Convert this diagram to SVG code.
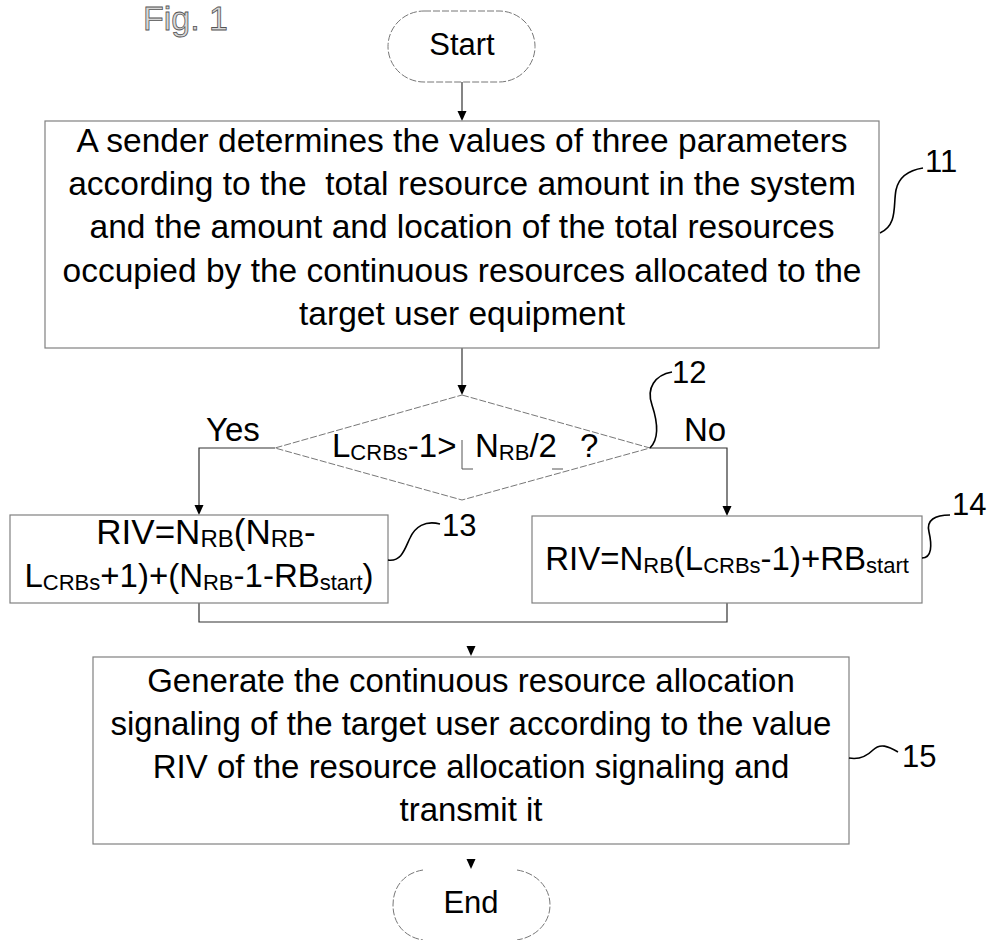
<svg xmlns="http://www.w3.org/2000/svg" width="991" height="940" viewBox="0 0 991 940">
<style>
text{font-family:"Liberation Sans",Arial,sans-serif;fill:#000}
.t{font-size:33px;text-anchor:middle}
.lbl{font-size:31px}
.sub{font-size:22px}
.box{fill:#fff;stroke:#808080;stroke-width:1.2}
.term{fill:none;stroke:#777;stroke-width:1;stroke-dasharray:7 2}
.ln{fill:none;stroke:#333;stroke-width:1.2}
.sq{fill:none;stroke:#000;stroke-width:1.6}
.ah{fill:#000}
</style>
<rect width="991" height="940" fill="#fff"/>
<text x="143" y="30" style="font-size:34px;fill:#d8d8d8;stroke:#555;stroke-width:0.8">Fig. 1</text>

<g id="connectors">
<line class="ln" x1="462" y1="82" x2="462" y2="112"/>
<path class="ah" d="M457.5,111 L466.5,111 L462,121 Z"/>
<line class="ln" x1="462" y1="348" x2="462" y2="386"/>
<path class="ah" d="M457.5,385 L466.5,385 L462,395 Z"/>
<path class="ln" d="M275,448 H199 V506"/>
<path class="ah" d="M194.5,505 L203.5,505 L199,515 Z"/>
<path class="ln" d="M650,448 H727 V507"/>
<path class="ah" d="M722.5,506 L731.5,506 L727,516 Z"/>
<path class="ln" d="M199,603 V622 H727 V603"/>
<path class="ah" d="M466.5,646 L475.5,646 L471,656 Z"/>
<path class="ah" d="M466.5,859 L475.5,859 L471,869 Z"/>
</g>

<g id="start">
<rect class="term" x="388" y="11" width="147" height="71" rx="36" ry="35.5"/>
<text class="t" x="462" y="55" style="font-size:31px">Start</text>
</g>

<g id="n11">
<rect class="box" x="45" y="121" width="834" height="227"/>
<text class="t" x="462" y="152" style="font-size:33.5px">A sender determines the values of three parameters</text>
<text class="t" x="462" y="195" style="font-size:33.5px" xml:space="preserve">according to the  total resource amount in the system</text>
<text class="t" x="462" y="238" style="font-size:33.5px">and the amount and location of the total resources</text>
<text class="t" x="462" y="282" style="font-size:33.5px">occupied by the continuous resources allocated to the</text>
<text class="t" x="462" y="325" style="font-size:33.5px">target user equipment</text>
<path class="sq" d="M880,233 C898,225 893,205 896,190 C899,176 910,170 923,168"/>
<text class="lbl" x="925" y="172">11</text>
</g>

<g id="n12">
<path class="term" d="M462,395 L650,448 L462,500 L275,448 Z"/>
<text x="332" y="457" style="font-size:33px">L<tspan class="sub" dy="3">CRBs</tspan><tspan dy="-3">-1&gt;</tspan><tspan x="475">N</tspan><tspan class="sub" dy="3">RB</tspan><tspan dy="-3">/2</tspan><tspan x="580">?</tspan></text>
<path fill="none" stroke="#555" stroke-width="1" d="M462,440 V469 H473 M552,469 H563"/>
<text x="206" y="441" style="font-size:33px">Yes</text>
<text x="684" y="441" style="font-size:33px">No</text>
<path class="sq" d="M650,448 C660,438 657,420 652,405 C646,388 655,375 672,372"/>
<text class="lbl" x="672" y="383">12</text>
</g>

<g id="n13">
<rect class="box" x="10" y="515" width="378" height="88"/>
<text class="t" x="206" y="544" style="font-size:35px">RIV=N<tspan dy="3" style="font-size:24px">RB</tspan><tspan dy="-3">(N</tspan><tspan dy="3" style="font-size:24px">RB</tspan><tspan dy="-3">-</tspan></text>
<text class="t" x="199" y="587">L<tspan class="sub" dy="3">CRBs</tspan><tspan dy="-3">+1)+(N</tspan><tspan class="sub" dy="3">RB</tspan><tspan dy="-3">-1-RB</tspan><tspan class="sub" dy="3">start</tspan><tspan dy="-3">)</tspan></text>
<path class="sq" d="M388,560 C402,562 405,548 410,538 C415,527 425,520 440,524"/>
<text class="lbl" x="442" y="536">13</text>
</g>

<g id="n14">
<rect class="box" x="532" y="516" width="390" height="87"/>
<text class="t" x="727" y="570">RIV=N<tspan class="sub" dy="3">RB</tspan><tspan dy="-3">(L</tspan><tspan class="sub" dy="3">CRBs</tspan><tspan dy="-3">-1)+RB</tspan><tspan class="sub" dy="3">start</tspan></text>
<path class="sq" d="M922,558 C932,558 932,545 929,532 C926,520 935,515 950,515"/>
<text class="lbl" x="952" y="515">14</text>
</g>

<g id="n15">
<rect class="box" x="93" y="657" width="756" height="187"/>
<text class="t" x="471" y="692">Generate the continuous resource allocation</text>
<text class="t" x="471" y="735">signaling of the target user according to the value</text>
<text class="t" x="471" y="778">RIV of the resource allocation signaling and</text>
<text class="t" x="471" y="821">transmit it</text>
<path class="sq" d="M849,758 C860,760 868,755 873,750 C880,743 888,746 898,752"/>
<text class="lbl" x="902" y="767">15</text>
</g>

<g id="end">
<path class="term" d="M423,870 C404,873 393,887 393,905 C393,923 404,937 423,940 M517,870 C536,873 550,887 550,905 C550,923 536,937 517,940"/>
<text class="t" x="471" y="913" style="font-size:31px">End</text>
</g>
</svg>
